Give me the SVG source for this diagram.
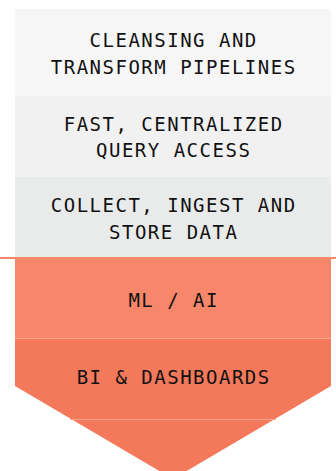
<svg xmlns="http://www.w3.org/2000/svg" width="336" height="471" viewBox="0 0 336 471">
<style>
.t{font-family:"DejaVu Sans Mono","Liberation Mono",monospace;font-size:19px;letter-spacing:1.5px;fill:#111;text-anchor:middle}
.sep{stroke:#f9a48e;stroke-width:1;fill:none}
</style>
<rect width="336" height="471" fill="#ffffff"/>
<g id="node-cleansing">
<rect x="15" y="9" width="316" height="87" fill="#f6f6f6"/>
<text class="t" x="173.7" y="47">CLEANSING AND</text>
<text class="t" x="173.7" y="74">TRANSFORM PIPELINES</text>
</g>
<g id="node-query">
<rect x="15" y="96" width="316" height="81" fill="#f1f1f1"/>
<text class="t" x="173.7" y="131">FAST, CENTRALIZED</text>
<text class="t" x="173.7" y="157">QUERY ACCESS</text>
</g>
<g id="node-collect">
<rect x="15" y="177" width="316" height="81" fill="#e9eaea"/>
<text class="t" x="173.7" y="212">COLLECT, INGEST AND</text>
<text class="t" x="173.7" y="239">STORE DATA</text>
</g>
<g id="node-bi">
<polygon points="15,338 331,338 331,386 173,479 15,386" fill="#f4795b"/>
<line class="sep" x1="70" y1="419.5" x2="276" y2="419.5"/>
<text class="t" x="173.7" y="384">BI &amp; DASHBOARDS</text>
</g>
<g id="node-ml">
<rect x="15" y="258" width="316" height="80" fill="#f6876a"/>
<text class="t" x="173.7" y="307">ML / AI</text>
</g>
<g id="connectors">
<line x1="0" y1="258" x2="336" y2="258" stroke="#f6876a" stroke-width="2"/>
<line class="sep" x1="15" y1="338.5" x2="331" y2="338.5"/>
</g>
</svg>
